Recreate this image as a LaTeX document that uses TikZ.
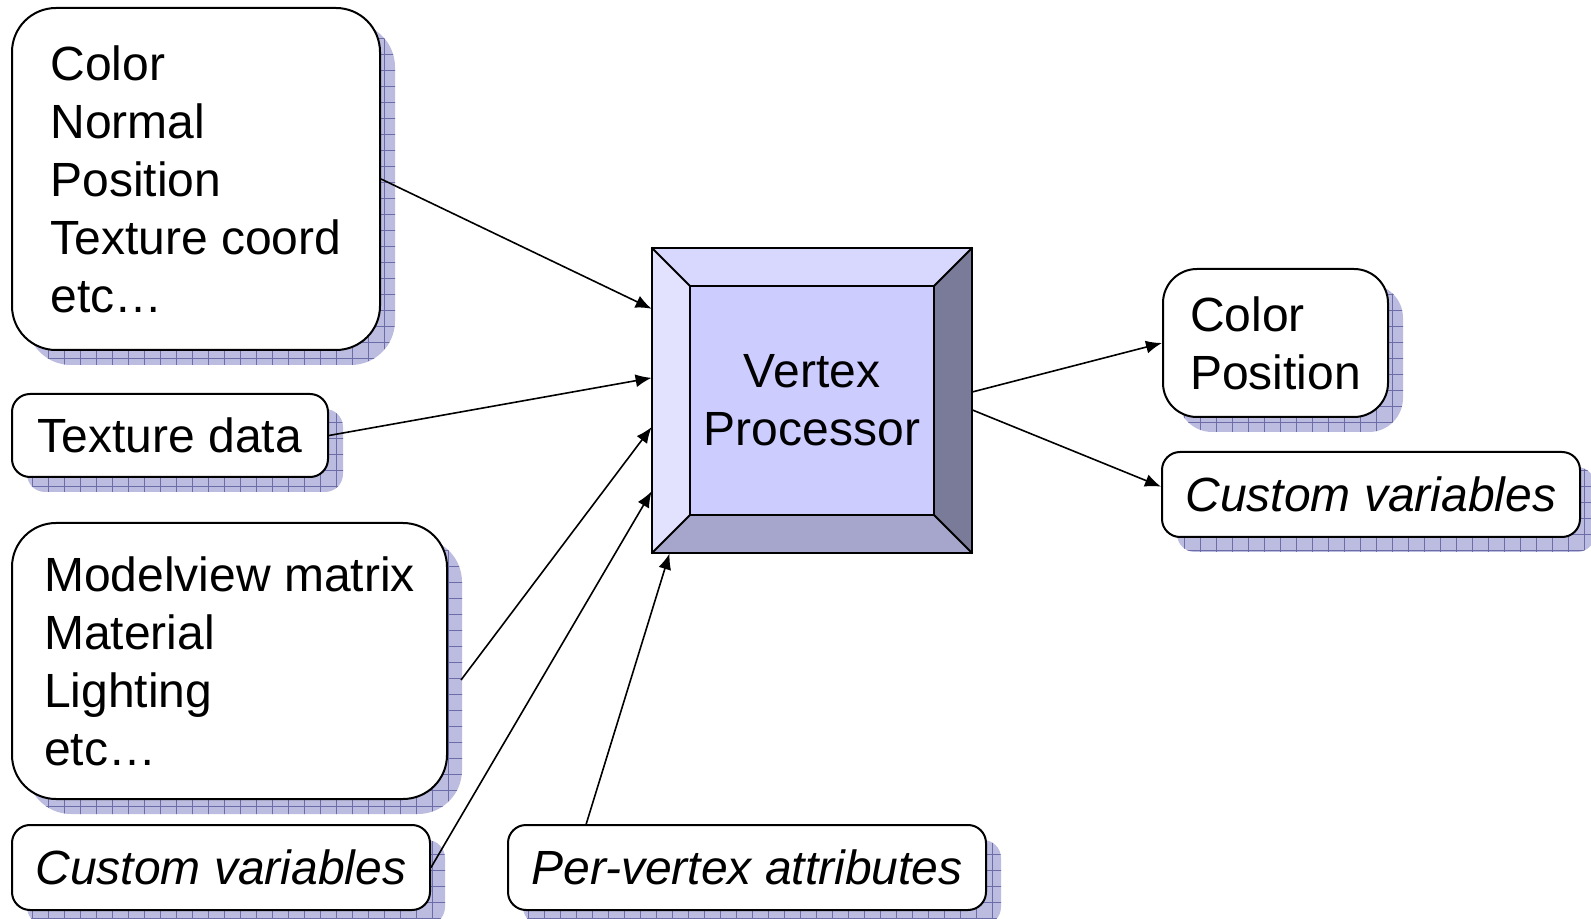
\documentclass[tikz,border=0pt]{standalone}
\usepackage{fontspec}
\setmainfont{Liberation Sans}
\usetikzlibrary{arrows.meta,calc,shadows,patterns.meta,backgrounds}
\definecolor{shadowfill}{RGB}{188,188,224}
\definecolor{shadowgrid}{RGB}{108,108,168}
\definecolor{vptop}{RGB}{216,216,255}
\definecolor{vpleft}{RGB}{226,226,255}
\definecolor{vpface}{RGB}{204,204,255}
\definecolor{vpbottom}{RGB}{166,166,204}
\definecolor{vpright}{RGB}{122,122,153}
\tikzset{
    boxshadow/.style={general shadow={shadow xshift=7.5pt, shadow yshift=-7.5pt, fill=shadowfill},
        general shadow={shadow xshift=7.5pt, shadow yshift=-7.5pt,
            pattern={Hatch[angle=0,distance=8pt,line width=0.5pt]}, pattern color=shadowgrid}},
    infobox/.style={draw, line width=1pt, fill=white, rounded corners=#1, align=left, inner sep=0pt, boxshadow},
    infobox/.default=9pt,
    link/.style={->, line width=0.8pt},
}
\begin{document}
\begin{tikzpicture}[>={Latex[length=8pt,width=6.5pt]}, x=0.5pt, y=-0.5pt, font=\fontsize{24}{29}\selectfont]
    \useasboundingbox (0,0) rectangle (1591,919);

    % inputs
    \node[infobox=22pt, minimum width=184pt, minimum height=171pt] (attr) at (196,179)
        {Color\\Normal\\Position\\Texture coord\\etc\ldots};
    \node[infobox, minimum width=158pt, minimum height=41.5pt] (tex) at (170,435.5) {Texture data};
    \node[infobox=22pt, minimum width=217.5pt, minimum height=138pt] (unif) at (229.5,661)
        {Modelview matrix\\Material\\Lighting\\etc\ldots};
    \node[infobox, minimum width=209pt, minimum height=42.5pt] (custin) at (221,867.5) {\itshape Custom variables};
    \node[infobox, minimum width=239pt, minimum height=42.5pt] (pervtx) at (747,867.5) {\itshape Per-vertex attributes};

    % processor
    \node[align=center, minimum width=160pt, minimum height=152.5pt] (vp) at (812,400.5) {Vertex\\Processor};
    \begin{scope}[on background layer]
        \coordinate (innw) at ($(vp.north west)+(38,38)$);
        \coordinate (inne) at ($(vp.north east)+(-38,38)$);
        \coordinate (insw) at ($(vp.south west)+(38,-38)$);
        \coordinate (inse) at ($(vp.south east)+(-38,-38)$);
        \fill[vptop] (vp.north west) -- (vp.north east) -- (inne) -- (innw) -- cycle;
        \fill[vpleft] (vp.north west) -- (vp.south west) -- (insw) -- (innw) -- cycle;
        \fill[vpbottom] (vp.south west) -- (vp.south east) -- (inse) -- (insw) -- cycle;
        \fill[vpright] (vp.north east) -- (vp.south east) -- (inse) -- (inne) -- cycle;
        \fill[vpface] (innw) rectangle (inse);
        \draw[line width=1pt] (vp.north west) rectangle (vp.south east);
        \draw[line width=1pt] (innw) rectangle (inse);
        \draw[line width=1pt] (vp.north west) -- (innw) (vp.north east) -- (inne)
            (vp.south west) -- (insw) (vp.south east) -- (inse);
    \end{scope}

    % outputs
    \node[infobox=17pt, minimum width=112.5pt, minimum height=74pt] (outfix) at (1275.5,343) {Color\\Position};
    \node[infobox, minimum width=209pt, minimum height=42.5pt] (custout) at (1371,494.5) {\itshape Custom variables};

    % arrows
    \draw[link] (attr.east) -- ($(vp.north west)!0.2!(vp.south west)$);
    \draw[link] (tex.east) -- ($(vp.north west)!0.426!(vp.south west)$);
    \draw[link] ($(unif.east)+(13,19)$) -- ($(vp.north west)!0.587!(vp.south west)$);
    \draw[link] (custin.east) -- ($(vp.north west)!0.797!(vp.south west)$);
    \draw[link] ($(pervtx.north west)!0.165!(pervtx.north east)$) -- ($(vp.south west)!0.056!(vp.south east)$);
    \draw[link] ($(vp.north east)!0.472!(vp.south east)$) -- (outfix.west);
    \draw[link] ($(vp.north east)!0.531!(vp.south east)$) -- ($(custout.north west)!0.41!(custout.south west)$);
\end{tikzpicture}
\end{document}
